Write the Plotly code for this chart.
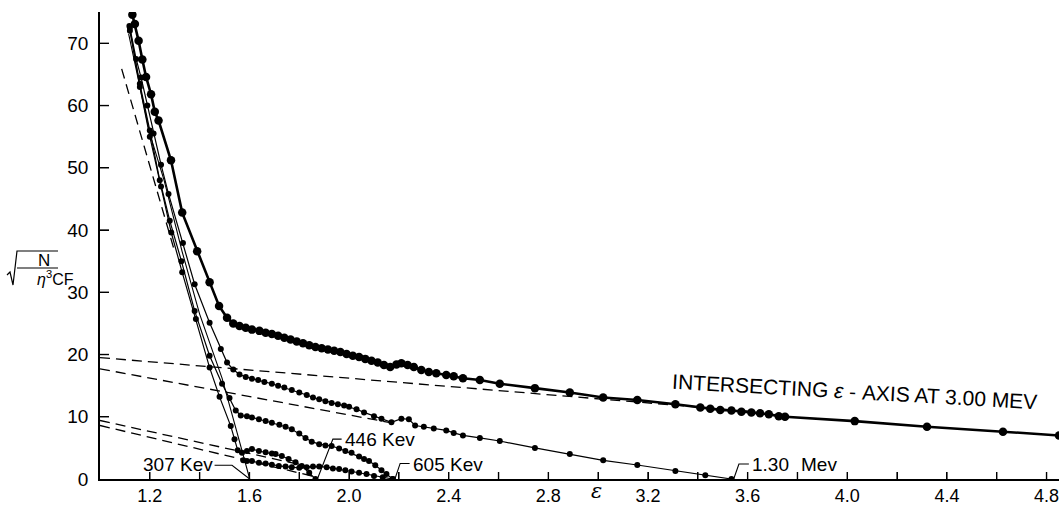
import plotly.graph_objects as go

# ---------------- data ----------------
# total curve (heavy, large dots) -> tail intersects the epsilon axis at 3.00 MeV
total_x = [1.13, 1.14, 1.155, 1.17, 1.185, 1.205, 1.22, 1.235, 1.285, 1.33, 1.39, 1.44, 1.478,
           1.51, 1.535, 1.56, 1.585, 1.61, 1.64, 1.665, 1.69, 1.715, 1.74, 1.765, 1.79, 1.815,
           1.84, 1.865, 1.89, 1.915, 1.94, 1.965, 1.99, 2.015, 2.04, 2.065, 2.09, 2.115, 2.14,
           2.165, 2.19, 2.21, 2.235, 2.26, 2.29, 2.32, 2.35, 2.39, 2.42, 2.457, 2.525, 2.605,
           2.746, 2.886, 3.02, 3.157, 3.31, 3.41, 3.45, 3.49, 3.535, 3.575, 3.615, 3.65, 3.685,
           3.725, 3.75, 4.03, 4.32, 4.625, 4.85]
total_y = [74.6, 73.1, 70.4, 67.4, 64.6, 61.8, 59.0, 57.6, 51.2, 42.8, 36.6, 31.6, 27.8,
           25.9, 25.0, 24.6, 24.3, 24.0, 23.8, 23.5, 23.3, 23.0, 22.7, 22.4, 22.1, 21.8,
           21.5, 21.2, 21.0, 20.8, 20.6, 20.4, 20.1, 19.8, 19.6, 19.3, 19.0, 18.7, 18.3,
           18.0, 18.4, 18.6, 18.3, 18.0, 17.5, 17.2, 17.0, 16.7, 16.5, 16.2, 15.9, 15.3,
           14.6, 13.9, 13.1, 12.7, 12.0, 11.5, 11.3, 11.1, 11.0, 10.8, 10.7, 10.55, 10.4,
           10.1, 10.0, 9.3, 8.4, 7.6, 7.0]

# after subtracting the 3.00 MeV component -> end point 1.30 MeV
b_x = [1.12, 1.145, 1.165, 1.19, 1.215, 1.245, 1.275, 1.333, 1.38, 1.44, 1.485, 1.51, 1.535,
       1.56, 1.585, 1.61, 1.635, 1.66, 1.69, 1.715, 1.74, 1.77, 1.80, 1.83, 1.855, 1.88, 1.905,
       1.93, 1.955, 1.98, 2.0, 2.03, 2.06, 2.10, 2.13, 2.17, 2.21, 2.24, 2.265, 2.30, 2.34,
       2.39, 2.42, 2.457, 2.525, 2.605, 2.746, 2.886, 3.02, 3.157, 3.31, 3.43, 3.535]
b_y = [72.5, 67.5, 64.5, 60.0, 55.5, 50.5, 45.8, 37.9, 31.3, 25.1, 20.9, 18.7, 17.6,
       16.8, 16.4, 16.1, 15.9, 15.6, 15.3, 15.0, 14.7, 14.3, 13.9, 13.5, 13.1, 12.8, 12.5,
       12.2, 12.0, 11.8, 11.6, 11.2, 10.7, 10.1, 9.7, 9.1, 9.7, 9.6, 8.6, 8.4, 8.1,
       7.8, 7.4, 7.0, 6.6, 6.1, 5.0, 4.0, 3.0, 2.25, 1.3, 0.6, 0.0]

# next component -> end point 605 keV
c_x = [1.12, 1.16, 1.20, 1.24, 1.28, 1.327, 1.38, 1.44, 1.49, 1.52, 1.545, 1.565, 1.59, 1.61,
       1.638, 1.665, 1.69, 1.72, 1.745, 1.77, 1.80, 1.825, 1.85, 1.88, 1.905, 1.93, 1.96,
       1.985, 2.01, 2.04, 2.06, 2.08, 2.105, 2.13, 2.15, 2.175]
c_y = [72.0, 63.5, 56.0, 48.0, 41.5, 35.0, 27.0, 19.8, 15.3, 13.0, 11.0, 10.2, 10.1, 9.9,
       9.6, 9.3, 9.05, 8.7, 8.4, 8.0, 7.3, 6.6, 6.0, 5.6, 5.4, 5.3, 4.9,
       4.5, 4.2, 3.6, 3.2, 2.9, 2.2, 1.4, 0.8, 0.0]

# component ending at 446 keV
d_x = [1.118, 1.16, 1.20, 1.245, 1.286, 1.33, 1.385, 1.44, 1.48, 1.525, 1.54, 1.553, 1.57,
       1.59, 1.61, 1.638, 1.665, 1.69, 1.705, 1.73, 1.757, 1.785, 1.81, 1.84, 1.865]
d_y = [72.8, 63.0, 55.0, 47.0, 39.6, 33.2, 25.7, 17.9, 13.2, 8.5, 6.4, 4.6, 4.2,
       4.5, 4.8, 4.5, 4.3, 4.1, 4.0, 3.7, 3.2, 2.7, 2.1, 1.0, 0.0]

# lowest curve, also ending at 605 keV
e_x = [1.575, 1.59, 1.61, 1.638, 1.665, 1.69, 1.718, 1.745, 1.77, 1.80, 1.83, 1.855, 1.88,
       1.91, 1.935, 1.96, 1.985, 2.01, 2.04, 2.07, 2.10, 2.135, 2.175]
e_y = [3.0, 2.9, 2.9, 2.6, 2.5, 2.3, 2.1, 2.0, 1.9, 1.8, 1.9, 2.0, 2.0,
       1.9, 1.7, 1.6, 1.4, 1.2, 1.0, 0.8, 0.5, 0.3, 0.0]

# straight 307 keV component
s_x = [1.115, 1.16, 1.20, 1.258, 1.33, 1.40, 1.49, 1.55, 1.601]
s_y = [71.5, 63.0, 55.5, 47.9, 36.5, 26.5, 16.2, 7.5, 0.0]

# dashed extrapolations
dash_lines = [
    ([1.0, 3.6], [19.5, 10.9]),
    ([1.0, 2.2], [17.7, 8.8]),
    ([1.0, 1.85], [9.4, 1.9]),
    ([1.0, 1.86], [8.6, 0.4]),
    ([1.087, 1.30], [65.9, 36.5]),
]

# end points (keV) and their labels
end_kev = [307, 446, 605, 1300]
mc2_kev = 511.0
x_ticks = [1.2, 1.4, 1.6, 1.8, 2.0, 2.2, 2.4, 2.6, 2.8, 3.0, 3.2, 3.4, 3.6, 3.8, 4.0, 4.2, 4.4, 4.6, 4.8]
x_ticktext = ["1.2", " ", "1.6", " ", "2.0", " ", "2.4", " ", "2.8", " ", "3.2", " ", "3.6", " ", "4.0", " ", "4.4", " ", "4.8"]
y_ticks = [0, 10, 20, 30, 40, 50, 60, 70]

# ---------------- figure ----------------
FONT = "Liberation Sans"
fig = go.Figure()

for xs, ys in dash_lines:
    fig.add_trace(go.Scatter(x=xs, y=ys, mode="lines",
                             line=dict(color="black", width=1.3, dash="10px,6px")))

fig.add_trace(go.Scatter(x=s_x, y=s_y, mode="lines", line=dict(color="black", width=1.1)))
for xs, ys in [(b_x, b_y), (c_x, c_y), (d_x, d_y), (e_x, e_y)]:
    fig.add_trace(go.Scatter(x=xs, y=ys, mode="lines+markers",
                             line=dict(color="black", width=1.2),
                             marker=dict(color="black", size=6)))
fig.add_trace(go.Scatter(x=total_x, y=total_y, mode="lines+markers",
                         line=dict(color="black", width=2.6),
                         marker=dict(color="black", size=8.5)))

# end-point leaders and labels
eps = [1 + k / mc2_kev for k in end_kev]
leaders = [
    ([1.46, 1.53, eps[0]], [2.2, 2.2, 0.0]),
    ([1.97, 1.935, eps[1]], [6.4, 6.4, 0.0]),
    ([eps[2], 2.205, 2.243], [0.0, 2.5, 2.5]),
    ([eps[3], 3.565, 3.605], [0.0, 2.4, 2.4]),
]
for xs, ys in leaders:
    fig.add_trace(go.Scatter(x=xs, y=ys, mode="lines", line=dict(color="black", width=1.1)))

lab_font = dict(family=FONT, size=19, color="black")
ann = [
    dict(x=1.46, y=2.4, text="307 Kev", xanchor="right", yanchor="middle"),
    dict(x=1.975, y=6.3, text="446 Kev", xanchor="left", yanchor="middle"),
    dict(x=2.25, y=2.4, text="605 Kev", xanchor="left", yanchor="middle"),
    dict(x=3.608, y=2.4, text="1.30", xanchor="left", yanchor="middle"),
    dict(x=3.805, y=2.4, text="Mev", xanchor="left", yanchor="middle"),
]
for a in ann:
    fig.add_annotation(showarrow=False, font=lab_font, xref="x", yref="y", **a)

fig.add_annotation(x=4.03, y=14.1, xref="x", yref="y", showarrow=False, textangle=3.2,
                   text="INTERSECTING <i>ε</i> - AXIS AT 3.00 MEV",
                   font=dict(family=FONT, size=21, color="black"))

# x-axis symbol
fig.add_annotation(x=2.994, y=0, xref="x", yref="paper", yshift=-26, showarrow=False,
                   text="<i>ε</i>", font=dict(family="DejaVu Serif", size=21, color="black"))

FIG_W, FIG_H = 1059, 514
L, R, T, B = 100, 0, 12, 35
W, H = FIG_W - L - R, FIG_H - T - B
YMAX = H / 6.224

def xp(px):  # window pixel -> paper x
    return (px - L) / W
def yp(py):  # window pixel -> paper y
    return (FIG_H - B - py) / H

# y-axis title sqrt(N / (eta^3 C F)) built from pieces
fig.add_annotation(x=xp(36), y=yp(260), xref="paper", yref="paper", showarrow=False,
                   text="N", font=dict(family=FONT, size=17, color="black"))
fig.add_annotation(x=xp(35), y=yp(278), xref="paper", yref="paper", showarrow=False,
                   text="<i>η</i><sup>3</sup>CF", font=dict(family=FONT, size=16, color="black"))
fig.add_shape(type="line", xref="paper", yref="paper", x0=xp(17), x1=xp(58), y0=yp(268), y1=yp(268),
              line=dict(color="black", width=1.2))
path = "M {} {} L {} {} L {} {} L {} {} L {} {}".format(
    xp(7), yp(275), xp(10), yp(272), xp(13), yp(285), xp(17), yp(251), xp(58), yp(251))
fig.add_shape(type="path", xref="paper", yref="paper", path=path, line=dict(color="black", width=1.2))

# explicit inside tick marks (pixel-sized), placed at the tick values
for tv in x_ticks:
    fig.add_shape(type="line", xref="x", yref="paper", ysizemode="pixel", yanchor=0,
                  x0=tv, x1=tv, y0=0, y1=7, line=dict(color="black", width=1.4))
for tv in y_ticks[1:]:
    fig.add_shape(type="line", xref="paper", yref="y", xsizemode="pixel", xanchor=0,
                  x0=0, x1=9, y0=tv, y1=tv, line=dict(color="black", width=1.4))

fig.update_layout(
    width=FIG_W, height=FIG_H,
    margin=dict(l=L, r=R, t=T, b=B, autoexpand=False),
    paper_bgcolor="white", plot_bgcolor="white",
    showlegend=False,
    xaxis=dict(range=[1.0, 4.85], showgrid=False, zeroline=False, showline=True, automargin=False,
               linecolor="black", linewidth=1.6, ticks="inside", ticklen=7, tickwidth=1.4,
               tickcolor="black", tickvals=x_ticks, ticktext=x_ticktext,
               ticklabeloverflow="allow",
               tickfont=dict(family=FONT, size=18, color="black")),
    yaxis=dict(range=[0, YMAX], showgrid=False, zeroline=False, showline=True,
               linecolor="black", linewidth=1.8, automargin=False,
               ticks="inside", ticklen=9, tickwidth=1.4, tickcolor="black", tickvals=y_ticks,
               ticklabelstandoff=6,
               tickfont=dict(family=FONT, size=19, color="black")),
)

# remove the page's default body margin so the figure sits at the window's top-left corner
fig.write_html("out.html", config={"displayModeBar": False},
               post_script="document.body.style.margin='0';document.body.style.overflow='hidden';")
